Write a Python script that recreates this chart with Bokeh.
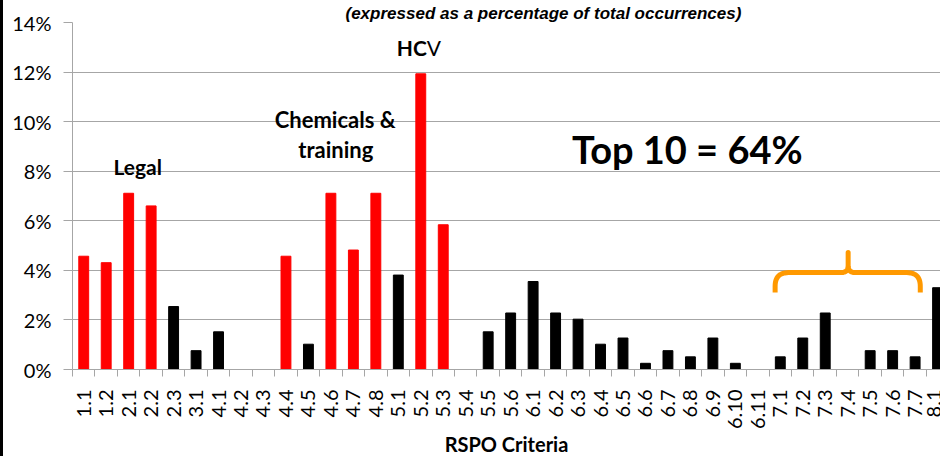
import numpy as np
from bokeh.plotting import figure
from bokeh.models import ColumnDataSource, FixedTicker, Range1d, Label, PrintfTickFormatter
from bokeh.embed import file_html
from bokeh.resources import INLINE

# ---------------- data ----------------
criteria = ["1.1", "1.2", "2.1", "2.2", "2.3", "3.1", "4.1", "4.2", "4.3", "4.4",
            "4.5", "4.6", "4.7", "4.8", "5.1", "5.2", "5.3", "5.4", "5.5", "5.6",
            "6.1", "6.2", "6.3", "6.4", "6.5", "6.6", "6.7", "6.8", "6.9", "6.10",
            "6.11", "7.1", "7.2", "7.3", "7.4", "7.5", "7.6", "7.7", "8.1"]
share_pct = [4.57, 4.31, 7.11, 6.60, 2.54, 0.76, 1.52, 0.0, 0.0, 4.57,
             1.02, 7.11, 4.82, 7.11, 3.81, 11.93, 5.84, 0.0, 1.52, 2.28,
             3.55, 2.28, 2.03, 1.02, 1.27, 0.25, 0.76, 0.51, 1.27, 0.25,
             0.0, 0.51, 1.27, 2.28, 0.0, 0.76, 0.76, 0.51, 3.30]
top10 = ["1.1", "1.2", "2.1", "2.2", "4.4", "4.6", "4.7", "4.8", "5.2", "5.3"]
y_ticks = [0, 2, 4, 6, 8, 10, 12, 14]

n = len(criteria)
idx = list(range(n))
colors = ["#FF0000" if c in top10 else "#000000" for c in criteria]
src = ColumnDataSource(dict(x=idx, top=share_pct, color=colors, label=criteria))

GRID = "#A6A6A6"
FONT = "Lato"

p = figure(frame_width=868, frame_height=347,
           x_range=Range1d(-0.5, 38.13), y_range=Range1d(0, 14),
           output_backend="svg", toolbar_location=None,
           min_border_left=72, min_border_top=22, min_border_right=0, min_border_bottom=0,
           title="(expressed as a percentage of total occurrences)")
p.outline_line_color = None
p.background_fill_color = "white"
p.border_fill_color = None
p.styles = {"box-shadow": "inset 3px 0 0 #000000", "background-color": "white"}

p.title.align = "left"
p.title.offset = 273
p.title.standoff = 0
p.title.text_font = "Liberation Sans"
p.title.text_font_style = "bold italic"
p.title.text_font_size = "17px"
p.title.text_color = "black"

p.vbar(x="x", top="top", width=0.44, bottom=0, color="color", source=src)

# grid
p.xgrid.visible = False
p.ygrid.ticker = FixedTicker(ticks=y_ticks)
p.ygrid.grid_line_color = GRID
p.ygrid.grid_line_width = 1

# x axis
xa = p.xaxis[0]
xa.ticker = FixedTicker(ticks=idx, minor_ticks=[i - 0.5 for i in range(n + 1)])
xa.major_label_overrides = {i: c for i, c in enumerate(criteria)}
xa.major_tick_out = 0
xa.major_tick_in = 0
xa.minor_tick_out = 7
xa.minor_tick_in = 0
xa.minor_tick_line_color = GRID
xa.axis_line_color = GRID
xa.major_label_orientation = np.pi / 2
xa.major_label_text_font = FONT
xa.major_label_text_font_size = "20px"
xa.major_label_text_color = "black"
xa.major_label_standoff = 13
xa.axis_label = "RSPO Criteria"
xa.axis_label_text_font = FONT
xa.axis_label_text_font_style = "bold"
xa.axis_label_text_font_size = "20px"
xa.axis_label_text_color = "black"
xa.axis_label_standoff = 0

# y axis
ya = p.yaxis[0]
ya.ticker = FixedTicker(ticks=y_ticks)
ya.formatter = PrintfTickFormatter(format="%d%%")
ya.major_tick_out = 9
ya.major_tick_in = 0
ya.minor_tick_line_color = None
ya.axis_line_color = GRID
ya.major_tick_line_color = GRID
ya.major_label_standoff = 12
ya.major_label_text_font = FONT
ya.major_label_text_font_size = "20px"
ya.major_label_text_color = "black"

# annotations
def lab(x, y, text, size, style="bold", align="center", font=FONT):
    p.add_layout(Label(x=x, y=y, text=text, text_align=align, text_baseline="alphabetic",
                       text_font=font, text_font_size=size, text_font_style=style,
                       text_color="black"))

lab(2.40, 8.20, "Legal", "21px")
lab(11.19, 10.09, "Chemicals &", "22px")
lab(11.22, 8.86, "training", "22px")
lab(15.27, 12.99, "HC", "21px", align="right")
lab(15.27, 12.99, "V", "21px", style="normal", align="left")
lab(26.86, 8.88, "Top 10 = 64%", "38px")

# orange brace over 7.1 .. 7.7
def qbez(p0, p1, p2, m=14):
    t = np.linspace(0, 1, m)[:, None]
    p0, p1, p2 = map(np.asarray, (p0, p1, p2))
    return (1 - t) ** 2 * p0 + 2 * (1 - t) * t * p1 + t ** 2 * p2

x0 = criteria.index("7.1") - 0.23
x1 = criteria.index("7.7") + 0.23
xm = criteria.index("7.4") + 0.02
yb, ye, yp = 3.91, 3.11, 4.72
rx, ry = 0.6, 0.55
rxc, ryc = 0.3, 0.3
pts = [np.array([[x0, ye]])]
pts.append(qbez((x0, yb - ry), (x0, yb), (x0 + rx, yb)))
pts.append(qbez((xm - rxc, yb), (xm, yb), (xm, yb + ryc)))
pts.append(np.array([[xm, yp]]))
pts.append(qbez((xm, yb + ryc), (xm, yb), (xm + rxc, yb)))
pts.append(qbez((x1 - rx, yb), (x1, yb), (x1, yb - ry)))
pts.append(np.array([[x1, ye]]))
bp = np.vstack(pts)
p.line(bp[:, 0], bp[:, 1], line_width=5, line_color="#FF9900", line_join="round")

open("out.html", "w").write(file_html(p, INLINE))
